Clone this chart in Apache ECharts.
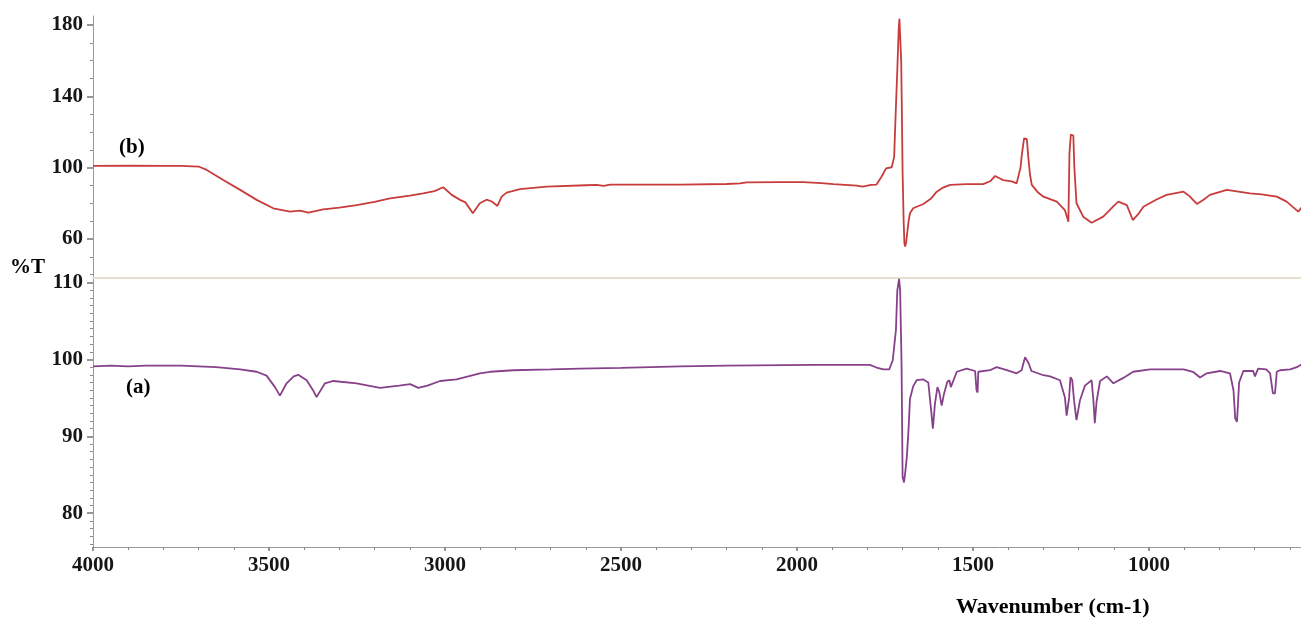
<!DOCTYPE html>
<html>
<head>
<meta charset="utf-8">
<title>FTIR</title>
<script src="https://cdn.jsdelivr.net/npm/echarts@6/dist/echarts.min.js"></script>
<style>
html, body { margin: 0; padding: 0; background: #fff; }
#ftir { width: 1301px; height: 619px; }
</style>
</head>
<body>
<div id="ftir"></div>
<script>
// spectrum (b) - upper panel
var wnB = [4000, 3900, 3800, 3750, 3700, 3677, 3630, 3582, 3535, 3488, 3440, 3412, 3388, 3346, 3300, 3251, 3200, 3156, 3100, 3062,
  3030, 3005, 2981, 2957, 2942, 2921, 2901, 2882, 2867, 2851, 2839, 2825, 2787, 2711, 2600, 2569, 2550, 2530, 2400, 2332,
  2200, 2162, 2143, 2050, 1982, 1930, 1897, 1830, 1813, 1790, 1774, 1760, 1747, 1731, 1724, 1719, 1715, 1711, 1709, 1706,
  1704, 1702, 1700, 1697, 1695, 1693, 1690, 1687, 1683, 1679, 1670, 1641, 1620, 1603, 1585, 1565, 1518, 1471, 1450, 1437,
  1425, 1414, 1390, 1376, 1372, 1365, 1362, 1355, 1350, 1347, 1343, 1338, 1333, 1315, 1300, 1262, 1239, 1229, 1226, 1222,
  1218, 1215, 1212, 1206, 1187, 1163, 1130, 1100, 1087, 1063, 1046, 1030, 1016, 980, 950, 902, 885, 864, 845, 827,
  779, 713, 680, 637, 609, 576, 565];
var tB = [101.0, 101.1, 101.0, 101.0, 100.6, 98.7, 93.1, 87.5, 81.9, 77.2, 75.3, 75.9, 74.8, 76.6, 77.6, 79.0, 80.8, 82.8, 84.3, 85.6,
  86.8, 89.0, 84.7, 81.9, 80.5, 74.4, 80.0, 82.0, 81.0, 78.5, 83.7, 86.0, 87.9, 89.3, 90.1, 90.3, 89.8, 90.4, 90.4, 90.4,
  90.8, 91.2, 91.7, 91.8, 91.8, 91.3, 90.7, 89.9, 89.3, 90.3, 90.5, 94.9, 99.6, 100.2, 106, 134, 155, 178, 183.5, 183,
  160, 130, 97, 70, 58, 55.7, 58, 63.2, 70, 74.4, 77.2, 79.6, 82.5, 86.5, 88.8, 90.3, 90.7, 90.7, 92.5, 95.3,
  94, 93.0, 92.3, 91.2, 90.3, 100, 106, 116.4, 117, 116, 106, 96, 90.3, 86, 83.7, 80.9, 76.2, 69.7, 108, 118.5,
  118.3, 118, 100, 80, 72.5, 69.1, 72.5, 78.5, 80.9, 79, 70.6, 74, 78.0, 82, 84.7, 86.5, 84, 79.6, 82, 84.7,
  87.5, 85.6, 85, 83.7, 80.9, 75.3, 78];

// spectrum (a) - lower panel
var wnA = [4000, 3950, 3900, 3850, 3800, 3750, 3700, 3650, 3582, 3535, 3507, 3483, 3469, 3450, 3430, 3417, 3393, 3375, 3365, 3341,
  3317, 3251, 3185, 3130, 3099, 3076, 3050, 3014, 2967, 2901, 2872, 2806, 2700, 2616, 2500, 2332, 2200, 1954, 1793, 1774,
  1755, 1738, 1728, 1719, 1715, 1710, 1707, 1703, 1700, 1696, 1692, 1688, 1683, 1679, 1670, 1660, 1641, 1627, 1619, 1614,
  1608, 1601, 1596, 1589, 1583, 1573, 1567, 1563, 1546, 1518, 1494, 1490, 1487, 1485, 1452, 1433, 1404, 1376, 1362, 1352,
  1342, 1334, 1300, 1281, 1253, 1239, 1234, 1227, 1223, 1218, 1213, 1206, 1196, 1182, 1163, 1158, 1154, 1149, 1139, 1120,
  1101, 1073, 1045, 997, 902, 875, 855, 836, 798, 770, 760, 755, 750, 744, 732, 704, 699, 690, 667, 656,
  648, 642, 637, 628, 599, 580, 565];
var tA = [99.1, 99.2, 99.1, 99.2, 99.2, 99.2, 99.1, 99.0, 98.7, 98.4, 97.9, 96.4, 95.3, 96.9, 97.8, 98.0, 97.3, 96.0, 95.1, 96.9,
  97.2, 96.9, 96.3, 96.6, 96.8, 96.3, 96.6, 97.2, 97.4, 98.2, 98.4, 98.6, 98.7, 98.8, 98.9, 99.1, 99.2, 99.3, 99.3, 98.95,
  98.7, 98.7, 99.9, 103.8, 109, 110.5, 109, 99.5, 84.7, 84.0, 85.5, 87.3, 91, 94.9, 96.5, 97.3, 97.4, 97.0, 93.4, 91.0,
  94.3, 96.4, 95.8, 94.0, 95.4, 97.1, 97.3, 96.4, 98.4, 98.8, 98.5, 96.0, 95.7, 98.4, 98.6, 99.0, 98.6, 98.2, 98.6, 100.3,
  99.5, 98.5, 97.95, 97.8, 97.3, 95.1, 92.7, 95, 97.7, 97.3, 94.7, 92.1, 94.7, 96.6, 97.3, 94.7, 91.7, 94.5, 97.2, 97.8,
  96.9, 97.6, 98.4, 98.7, 98.7, 98.4, 97.65, 98.2, 98.5, 98.2, 96.0, 92.3, 91.9, 97, 98.5, 98.5, 97.8, 98.8, 98.7, 98.2,
  95.6, 95.6, 98.4, 98.6, 98.7, 99.0, 99.4];

// tick values
var topTicks = [60, 100, 140, 180];
var topMinor = [40, 50, 70, 80, 90, 110, 120, 130, 150, 160, 170];
var bottomTicks = [80, 90, 100, 110];
var bottomMinor = [76, 77, 78, 79, 81, 82, 83, 84, 85, 86, 87, 88, 89, 91, 92, 93, 94, 95, 96, 97, 98, 99,
  101, 102, 103, 104, 105, 106, 107, 108, 109];

var myChart = echarts.init(document.getElementById('ftir'));

var lblFont = {
    fontFamily: 'Liberation Serif',
    fontWeight: 'bold',
    fontSize: 21,
    color: '#161616'
};

function plain(v) {
    return String(v);
}

function pairs(xs, ys) {
    var out = [];
    for (var i = 0; i < xs.length; i++) {
        out.push([xs[i], ys[i]]);
    }
    return out;
}

// main y axis with labels, plus one overlay for small ticks
function yMain(grid, min, max, ticks) {
    return {
        type: 'value', gridIndex: grid, position: 'left', min: min, max: max,
        splitLine: { show: false },
        axisLine: { show: true, lineStyle: { color: '#9a9a9a', width: 1 } },
        axisTick: { show: true, customValues: ticks, length: 6, lineStyle: { color: '#777', width: 1.5 } },
        axisLabel: Object.assign({ customValues: ticks, margin: 10, formatter: plain }, lblFont)
    };
}
function yMinor(grid, min, max, ticks) {
    return {
        type: 'value', gridIndex: grid, position: 'left', min: min, max: max,
        splitLine: { show: false },
        axisLine: { show: false },
        axisTick: { show: true, customValues: ticks, length: 3, lineStyle: { color: '#8a8a8a', width: 1 } },
        axisLabel: { show: false }
    };
}

var option = {
    backgroundColor: '#fff',
    animation: false,
    grid: [
        { left: 93, right: -24, top: 16, height: 262, outerBoundsMode: 'none' },
        { left: 93, right: -24, top: 278, bottom: 72, outerBoundsMode: 'none' }
    ],
    xAxis: [
        {
            type: 'value', gridIndex: 0, min: 500, max: 4000, interval: 500, inverse: true,
            splitLine: { show: false },
            axisLine: { show: true, lineStyle: { color: '#e4dfcf', width: 2 } },
            axisTick: { show: false },
            axisLabel: { show: false }
        },
        {
            type: 'value', gridIndex: 1, min: 500, max: 4000, interval: 500, inverse: true,
            splitLine: { show: false },
            axisLine: { show: true, lineStyle: { color: '#9a9a9a', width: 1 } },
            axisTick: { show: true, length: 4, lineStyle: { color: '#777', width: 1.5 } },
            minorTick: { show: true, splitNumber: 5, length: 3, lineStyle: { color: '#888' } },
            axisLabel: Object.assign({ margin: 8, formatter: plain }, lblFont)
        }
    ],
    yAxis: [
        yMain(0, 38.1, 185, topTicks),
        yMinor(0, 38.1, 185, topMinor),
        yMain(1, 75.6, 110.6, bottomTicks),
        yMinor(1, 75.6, 110.6, bottomMinor)
    ],
    series: [
        {
            name: '(b)', type: 'line', xAxisIndex: 0, yAxisIndex: 0,
            data: pairs(wnB, tB), showSymbol: false,
            lineStyle: { color: '#c83c3c', width: 1.8 }
        },
        {
            name: '(a)', type: 'line', xAxisIndex: 1, yAxisIndex: 2,
            data: pairs(wnA, tA), showSymbol: false,
            lineStyle: { color: '#86418a', width: 1.8 }
        }
    ],
    graphic: [
        { type: 'text', left: 10, top: 257, style: Object.assign({ text: '%T' }, lblFont) },
        { type: 'text', left: 119, top: 137, style: Object.assign({ text: '(b)' }, lblFont) },
        { type: 'text', left: 126, top: 377, style: Object.assign({ text: '(a)' }, lblFont) },
        { type: 'text', left: 956, top: 596, style: Object.assign({ text: 'Wavenumber (cm-1)' }, lblFont, { fontSize: 22 }) }
    ]
};

myChart.setOption(option);

window.addEventListener('resize', function () {
    myChart.resize();
});
</script>
</body>
</html>
